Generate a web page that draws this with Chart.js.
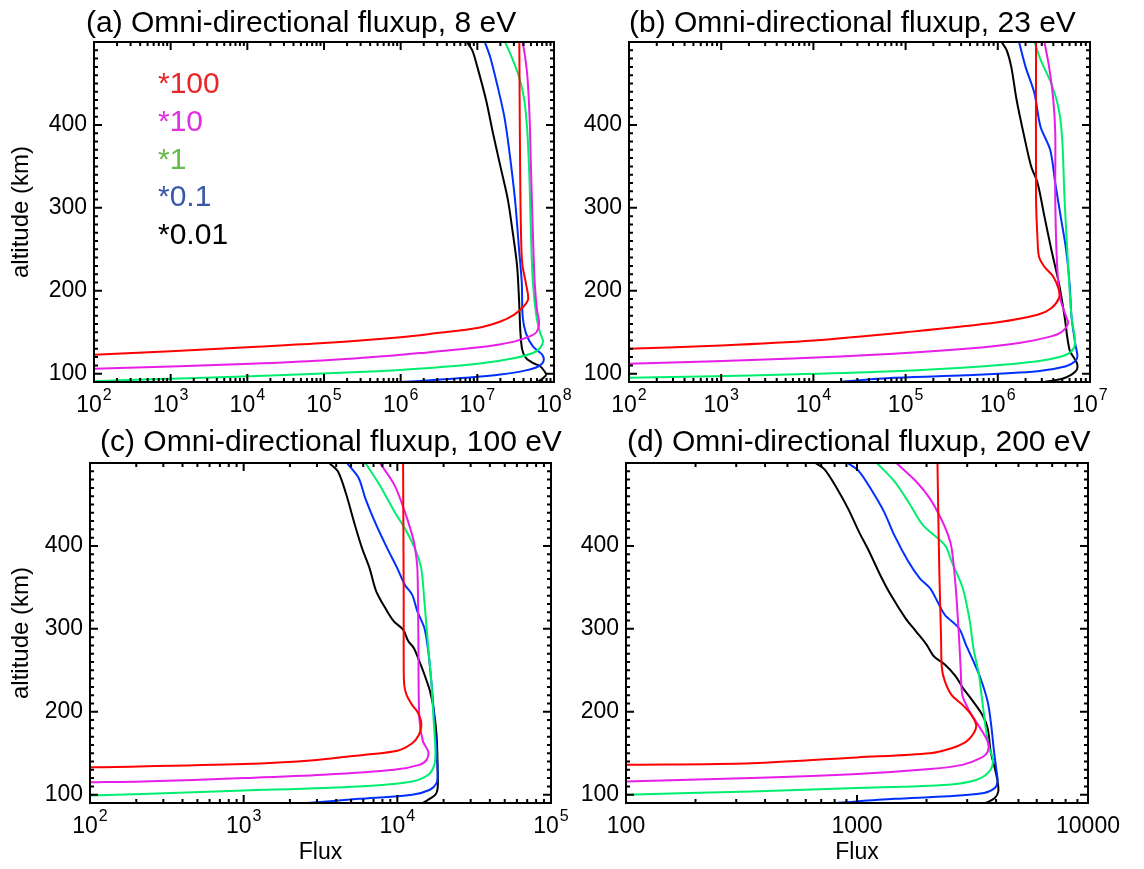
<!DOCTYPE html>
<html>
<head>
<meta charset="utf-8">
<script src="https://cdn.jsdelivr.net/npm/chart.js@4.4.1/dist/chart.umd.min.js"></script>
<style>
  body { margin: 0; background: #fff; }
  #wrap { position: relative; width: 1144px; height: 869px; }
  #wrap canvas { position: absolute; left: 0; top: 0; }
</style>
</head>
<body>
<div id="wrap">
  <canvas id="pa" width="1144" height="869"></canvas>
  <canvas id="pb" width="1144" height="869"></canvas>
  <canvas id="pc" width="1144" height="869"></canvas>
  <canvas id="pd" width="1144" height="869"></canvas>
</div>
<script>
// ---- data: [flux, altitude km] ----
const seriesLabels = ['*100', '*10', '*1', '*0.1', '*0.01'];
const panelTitles = [
  '(a) Omni-directional fluxup, 8 eV',
  '(b) Omni-directional fluxup, 23 eV',
  '(c) Omni-directional fluxup, 100 eV',
  '(d) Omni-directional fluxup, 200 eV'
];
const yTickValues = [100, 200, 300, 400];
const xTicksA = [1e2, 1e3, 1e4, 1e5, 1e6, 1e7, 1e8];
const xTicksB = [1e2, 1e3, 1e4, 1e5, 1e6, 1e7];
const xTicksC = [1e2, 1e3, 1e4, 1e5];
const xTicksD = [100, 1000, 10000];

// (a) 8 eV
const a_x100 = [[1e2,123],[1e3,127],[1e4,132],[1e5,137],[1e6,144],[3e6,149],[1e7,155],[2e7,163],[3e7,171],[4e7,181],[4.6e7,190],[4.3e7,209],[3.9e7,229],[3.77e7,246],[3.65e7,310],[3.58e7,400],[3.53e7,500]];
const a_x10 = [[1e2,106],[1.3e3,109],[1.1e4,112],[9.4e4,116],[8.1e5,122],[2.4e6,126],[6.9e6,130],[1.6e7,134],[3.1e7,139],[4.8e7,145],[5.9e7,150],[6.4e7,161],[6.0e7,177],[5.6e7,210],[5.3e7,270],[5.0e7,350],[4.8e7,410],[4.5e7,458],[4.2e7,482],[3.9e7,500]];
const a_x1 = [[1e2,91],[4.4e2,93],[1.1e4,97],[2.8e5,102],[2.4e6,107],[1.2e7,113],[3.1e7,119],[5.3e7,125],[6.6e7,131],[7.2e7,139],[6.6e7,149],[5.9e7,169],[5.3e7,210],[5.0e7,270],[4.8e7,330],[4.5e7,390],[4.1e7,430],[3.5e7,458],[2.8e7,482],[2.3e7,500]];
const a_x01 = [[1e6,90],[2.4e6,92],[6.9e6,95],[2.0e7,99],[4.3e7,104],[6.3e7,109],[7.3e7,115],[7.0e7,123],[5.3e7,133],[4.3e7,149],[3.9e7,169],[3.8e7,210],[3.5e7,250],[3.1e7,310],[2.6e7,370],[2.25e7,410],[1.8e7,450],[1.47e7,482],[1.25e7,500]];
const a_x001 = [[6.3e7,91],[7.3e7,95],[7.9e7,99],[7.5e7,103],[6.6e7,109],[5.3e7,113],[4.3e7,119],[3.85e7,129],[3.65e7,149],[3.5e7,189],[3.3e7,230],[2.9e7,270],[2.5e7,310],[2.0e7,350],[1.6e7,390],[1.3e7,430],[1.0e7,470],[8.6e6,490],[7.3e6,500]];

// (b) 23 eV
const b_x100 = [[1e2,130],[1e3,134],[1e4,140],[1e5,150],[1e6,162],[2.7e6,171],[3.8e6,179],[4.6e6,191],[4.6e6,201],[4.0e6,217],[3.2e6,229],[2.8e6,241],[2.7e6,261],[2.6e6,310],[2.6e6,500]];
const b_x10 = [[1e2,112],[8.6e2,115],[5.1e3,118],[7.4e4,124],[4.5e5,130],[1.7e6,137],[3.8e6,145],[5.0e6,151],[5.8e6,161],[5.5e6,169],[4.8e6,189],[4.4e6,230],[4.2e6,310],[4.2e6,390],[4.0e6,430],[3.6e6,470],[3.2e6,500]];
const b_x1 = [[1e2,95],[8.5e2,97],[5.1e3,99],[7.4e4,103],[7.1e5,109],[2.7e6,115],[5.0e6,121],[6.3e6,127],[6.9e6,137],[6.3e6,169],[5.8e6,229],[5.3e6,310],[5.0e6,382],[4.6e6,418],[3.8e6,450],[2.9e6,479],[2.5e6,500]];
const b_x01 = [[1.9e4,90],[7.4e4,95],[4.5e5,98],[2.7e6,103],[5.5e6,109],[6.9e6,115],[7.3e6,121],[6.9e6,137],[6.3e6,169],[6.0e6,209],[5.5e6,250],[4.8e6,290],[4.2e6,330],[3.7e6,370],[2.9e6,398],[2.5e6,438],[2.0e6,470],[1.7e6,500]];
const b_x001 = [[3.2e6,90],[5.0e6,94],[6.3e6,99],[7.2e6,105],[7.2e6,113],[6.0e6,129],[5.3e6,169],[4.6e6,209],[3.8e6,250],[3.2e6,290],[2.7e6,330],[2.3e6,350],[1.9e6,390],[1.6e6,430],[1.4e6,470],[1.25e6,490],[1.1e6,500]];

// (c) 100 eV
const c_x100 = [[1e2,133],[1e3,137],[3e3,142],[6e3,148],[1e4,153],[1.25e4,162],[1.38e4,172],[1.43e4,182],[1.42e4,190],[1.35e4,200],[1.25e4,208],[1.15e4,220],[1.11e4,232],[1.1e4,253],[1.1e4,333],[1.09e4,500]];
const c_x10 = [[1e2,115],[2.2e2,116],[1e3,120],[3.3e3,124],[9.5e3,130],[1.39e4,136],[1.55e4,142],[1.59e4,152],[1.47e4,164],[1.39e4,192],[1.37e4,293],[1.35e4,373],[1.3e4,399],[1.25e4,413],[1.12e4,441],[9.6e3,473],[7.7e3,500]];
const c_x1 = [[1e2,99],[2.2e2,101],[1e3,105],[5.6e3,110],[1.25e4,116],[1.59e4,124],[1.74e4,136],[1.77e4,152],[1.72e4,192],[1.67e4,233],[1.59e4,277],[1.5e4,333],[1.43e4,373],[1.3e4,397],[1.12e4,421],[9.6e3,441],[7.7e3,473],[6.2e3,500]];
const c_x01 = [[2.6e3,90],[5.6e3,95],[1.25e4,100],[1.63e4,106],[1.8e4,114],[1.83e4,124],[1.8e4,152],[1.74e4,192],[1.67e4,233],[1.59e4,273],[1.5e4,301],[1.35e4,321],[1.25e4,341],[1.12e4,353],[1e4,373],[8.6e3,397],[7.3e3,425],[6.2e3,457],[5.6e3,482],[4.7e3,500]];
const c_x001 = [[1.47e4,90],[1.59e4,94],[1.77e4,100],[1.83e4,108],[1.83e4,132],[1.8e4,172],[1.72e4,204],[1.63e4,225],[1.5e4,245],[1.39e4,261],[1.28e4,277],[1.18e4,285],[1.09e4,299],[9.5e3,309],[8.6e3,321],[7.3e3,345],[6.6e3,373],[5.9e3,397],[5.3e3,425],[4.6e3,465],[4.1e3,490],[3.6e3,500]];

// (d) 200 eV
const d_x100 = [[100,136],[350,138],[1e3,145],[2.07e3,150],[2.57e3,156],[2.97e3,164],[3.2e3,174],[3.28e3,184],[3.13e3,196],[2.87e3,208],[2.57e3,220],[2.4e3,237],[2.33e3,253],[2.31e3,293],[2.27e3,373],[2.23e3,500]];
const d_x10 = [[100,116],[350,120],[1e3,125],[2.07e3,131],[2.86e3,136],[3.42e3,144],[3.68e3,152],[3.68e3,164],[3.42e3,180],[3.08e3,200],[2.86e3,220],[2.81e3,253],[2.76e3,293],[2.67e3,353],[2.57e3,397],[2.48e3,413],[2.31e3,433],[2.07e3,457],[1.8e3,478],[1.48e3,500]];
const d_x1 = [[100,100],[350,104],[1e3,108],[2.48e3,112],[3.3e3,118],[3.74e3,128],[3.88e3,142],[3.74e3,156],[3.61e3,180],[3.49e3,212],[3.37e3,245],[3.19e3,277],[3.08e3,309],[2.87e3,349],[2.57e3,381],[2.4e3,401],[1.93e3,425],[1.67e3,453],[1.45e3,478],[1.22e3,500]];
const d_x01 = [[806,90],[1.45e3,95],[2.48e3,98],[3.55e3,102],[3.95e3,108],[4.06e3,116],[4.02e3,128],[3.92e3,152],[3.81e3,184],[3.68e3,212],[3.42e3,241],[3.19e3,261],[2.96e3,281],[2.76e3,301],[2.4e3,317],[2.23e3,333],[2.07e3,349],[1.87e3,361],[1.67e3,381],[1.45e3,413],[1.31e3,441],[1.17e3,465],[1.02e3,490],[910,500]];
const d_x001 = [[3.61e3,90],[3.95e3,96],[4.09e3,104],[4.06e3,116],[3.95e3,132],[3.79e3,152],[3.68e3,180],[3.49e3,196],[3.19e3,212],[2.87e3,229],[2.67e3,243],[2.4e3,257],[2.15e3,267],[2.0e3,281],[1.8e3,297],[1.62e3,313],[1.4e3,341],[1.26e3,365],[1.13e3,393],[1.02e3,417],[915,445],[820,469],[725,492],[660,500]];

// ---- styling ----
const FONT = '"Liberation Sans", Arial, Helvetica, sans-serif';
const lineColors = ['#ff0000', '#e81ee8', '#00ee6e', '#0030ff', '#000000'];
const legendColors = ['#e82828', '#e030e0', '#66bb4c', '#3a58a8', '#000000'];
const W = 1144, H = 869;

// IDL-like frame: box, inward ticks on all sides, x labels with exponents, title, legend
const idlFrame = {
  id: 'idlFrame',
  afterDatasetsDraw(chart, args, opts) {
    const { ctx, chartArea: a, scales: { x, y } } = chart;
    ctx.save();
    ctx.strokeStyle = '#000';
    ctx.lineWidth = 2;
    ctx.strokeRect(a.left, a.top, a.right - a.left, a.bottom - a.top);

    ctx.beginPath();
    const lo = Math.round(Math.log10(x.min)), hi = Math.round(Math.log10(x.max));
    for (let e = lo; e <= hi; e++) {
      for (let m = 1; m < 10; m++) {
        const v = m * Math.pow(10, e);
        if (v > x.max * 1.0001) break;
        const px = x.getPixelForValue(v);
        const len = m === 1 ? 8 : 4;
        ctx.moveTo(px, a.bottom); ctx.lineTo(px, a.bottom - len);
        ctx.moveTo(px, a.top); ctx.lineTo(px, a.top + len);
      }
    }
    for (let v = 100; v < y.max; v += 10) {
      const py = y.getPixelForValue(v);
      const len = v % 100 === 0 ? 8 : 4;
      ctx.moveTo(a.left, py); ctx.lineTo(a.left + len, py);
      ctx.moveTo(a.right, py); ctx.lineTo(a.right - len, py);
    }
    ctx.stroke();

    // x tick labels
    ctx.fillStyle = '#000';
    ctx.textBaseline = 'alphabetic';
    const baseY = a.bottom + 30;
    opts.xTicks.forEach(v => {
      const px = x.getPixelForValue(v);
      if (opts.powers) {
        const ex = String(Math.round(Math.log10(v)));
        ctx.font = '23px ' + FONT;
        const wb = ctx.measureText('10').width;
        ctx.font = '16px ' + FONT;
        const we = ctx.measureText(ex).width;
        const x0 = px - (wb + we + 1) / 2;
        ctx.textAlign = 'left';
        ctx.font = '23px ' + FONT;
        ctx.fillText('10', x0, baseY);
        ctx.font = '16px ' + FONT;
        ctx.fillText(ex, x0 + wb + 1, baseY - 12);
      } else {
        ctx.textAlign = 'center';
        ctx.font = '23px ' + FONT;
        ctx.fillText(String(v), px, baseY);
      }
    });

    // title
    ctx.textAlign = 'left';
    ctx.font = '30px ' + FONT;
    ctx.fillText(opts.title, a.left + opts.titleDx, opts.titleY);

    // legend
    if (opts.legend) {
      ctx.font = '30px ' + FONT;
      seriesLabels.forEach((t, i) => {
        ctx.fillStyle = legendColors[i];
        ctx.fillText(t, a.left + 64, a.top + 51 + i * 37.8);
      });
    }
    ctx.restore();
  }
};

function makePanel(id, box, series, xTicks, opt) {
  const padLeft = box.left > 572 ? 572 : 0;
  return new Chart(document.getElementById(id).getContext('2d'), {
    type: 'scatter',
    data: {
      datasets: series.map((pts, i) => ({
        label: seriesLabels[i],
        data: pts.map(p => ({ x: p[0], y: p[1] })),
        showLine: true,
        borderColor: lineColors[i],
        borderWidth: 2,
        pointRadius: 0,
        tension: 0.3,
        fill: false
      }))
    },
    plugins: [idlFrame],
    options: {
      responsive: false,
      animation: false,
      devicePixelRatio: 1,
      layout: { padding: { left: padLeft, top: box.top, right: W - box.right, bottom: 0 } },
      plugins: {
        legend: { display: false },
        tooltip: { enabled: false },
        idlFrame: {
          xTicks, powers: opt.powers, title: opt.title,
          titleDx: opt.titleDx, titleY: opt.titleY, legend: !!opt.legend
        }
      },
      scales: {
        x: {
          type: 'logarithmic',
          min: xTicks[0],
          max: xTicks[xTicks.length - 1],
          afterBuildTicks: s => { s.ticks = xTicks.map(v => ({ value: v })); },
          afterFit: s => { s.height = H - box.bottom; },
          ticks: { display: false },
          grid: { display: false, drawTicks: false },
          border: { display: false },
          title: {
            display: !!opt.xTitle, text: 'Flux', color: '#000',
            font: { family: FONT, size: 23 }, padding: { top: 0, bottom: 3 }
          }
        },
        y: {
          min: 90,
          max: 500,
          afterBuildTicks: s => { s.ticks = yTickValues.map(v => ({ value: v })); },
          afterFit: s => { s.width = box.left - padLeft; },
          ticks: { color: '#000', padding: 7, font: { family: FONT, size: 23 } },
          grid: { display: false, drawTicks: false },
          border: { display: false },
          title: {
            display: !!opt.yTitle, text: 'altitude (km)', color: '#000',
            font: { family: FONT, size: 24 }, padding: { top: 7, bottom: 0 }
          }
        }
      }
    }
  });
}

makePanel('pa', { left: 94, right: 554, top: 42, bottom: 382 },
  [a_x100, a_x10, a_x1, a_x01, a_x001], xTicksA,
  { powers: true, title: panelTitles[0], titleDx: -8, titleY: 32, yTitle: true, legend: true });
makePanel('pb', { left: 629, right: 1090, top: 42, bottom: 382 },
  [b_x100, b_x10, b_x1, b_x01, b_x001], xTicksB,
  { powers: true, title: panelTitles[1], titleDx: 0, titleY: 32 });
makePanel('pc', { left: 90, right: 551, top: 463, bottom: 803 },
  [c_x100, c_x10, c_x1, c_x01, c_x001], xTicksC,
  { powers: true, title: panelTitles[2], titleDx: 10, titleY: 451, yTitle: true, xTitle: true });
makePanel('pd', { left: 626, right: 1088, top: 463, bottom: 803 },
  [d_x100, d_x10, d_x1, d_x01, d_x001], xTicksD,
  { powers: false, title: panelTitles[3], titleDx: 1, titleY: 451, xTitle: true });
</script>
</body>
</html>
